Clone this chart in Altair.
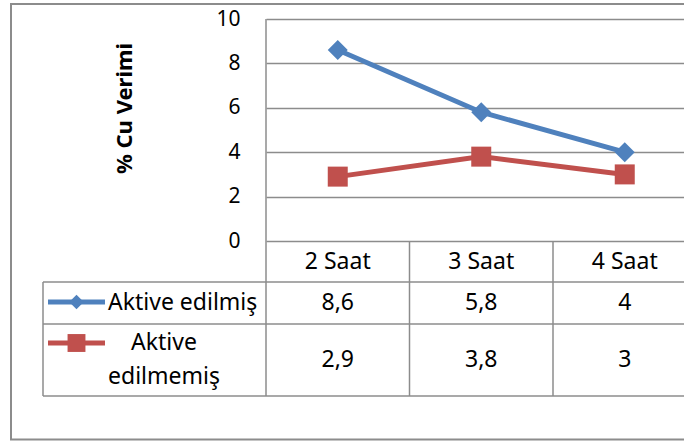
import altair as alt
import pandas as pd

# --- chart data -------------------------------------------------------------
categories = ["2 Saat", "3 Saat", "4 Saat"]
series_names = ["Aktive edilmiş", "Aktive edilmemiş"]
activated = [8.6, 5.8, 4.0]
not_activated = [2.9, 3.8, 3.0]
y_ticks = [0, 2, 4, 6, 8, 10]
y_title = "% Cu Verimi"

# --- styling ----------------------------------------------------------------
colors = ["#4F81BD", "#C0504D"]
shapes = ["diamond", "square"]
legend_sizes = [210, 320]
FONT = "Noto Sans"
GRID = "#8c8c8c"
TXT = 23

PLOT_W, PLOT_H = 418, 222   # line-chart plot area
STEP = 143.5                # width of one category column

# long table for the series
rows = []
for name, vals in zip(series_names, [activated, not_activated]):
    for i, (cat, v) in enumerate(zip(categories, vals)):
        rows.append({
            "series": name,
            "saat": cat,
            "idx": i,
            "value": v,
            "label": f"{v:g}".replace(".", ","),
        })
df = pd.DataFrame(rows)

cat_df = pd.DataFrame({"saat": categories, "idx": list(range(len(categories)))})
cat_df["edge"] = cat_df["idx"] + 0.5

x_scale = alt.Scale(domain=[-0.5, -0.5 + PLOT_W / STEP], nice=False, zero=False)
y_scale = alt.Scale(domain=[0, 10], nice=False, zero=True)
color_scale = alt.Scale(domain=series_names, range=colors)
shape_scale = alt.Scale(domain=series_names, range=shapes)

X = alt.X("idx:Q", scale=x_scale, axis=None)
Y = alt.Y(
    "value:Q",
    scale=y_scale,
    axis=alt.Axis(
        values=y_ticks,
        grid=True,
        gridColor=GRID,
        gridWidth=1.5,
        domain=False,
        ticks=False,
        labelFont=FONT,
        labelFontSize=21,
        labelColor="black",
        labelPadding=26,
        labelFlush=False,
        labelOverlap=False,
        title=y_title,
        titleFont=FONT,
        titleFontSize=22,
        titleFontWeight="bold",
        titleColor="black",
        titleAngle=270,
        titleX=-142,
        titleY=89,
        titleAlign="center",
        titleBaseline="middle",
    ),
)
COLOR = alt.Color("series:N", scale=color_scale, legend=None)

one = pd.DataFrame({"k": [0]})


def rule(x, x2, y, y2, width=1.5):
    return alt.Chart(one).mark_rule(color=GRID, strokeWidth=width).encode(
        x=alt.value(x), x2=alt.value(x2), y=alt.value(y), y2=alt.value(y2)
    )


# outer chart frame
frame = alt.Chart(one).mark_rect(fillOpacity=0, stroke=GRID, strokeWidth=2).encode(
    x=alt.value(-255), x2=alt.value(440), y=alt.value(-15), y2=alt.value(420.5)
)

# series lines and markers
lines = alt.Chart(df).mark_line(strokeWidth=5).encode(
    x=X, y=Y, color=COLOR, detail="series:N"
)
points = alt.Chart(df).mark_point(filled=True, opacity=1, size=400).encode(
    x=X,
    y=Y,
    color=COLOR,
    shape=alt.Shape("series:N", scale=shape_scale, legend=None),
)

# data table grid
table_lines = [
    rule(0, 0, 0, 377),          # left edge of plot / table
    rule(-223, -223, 263, 377),  # left edge of series-name column
    rule(-223, 440, 263, 263),
    rule(-223, 440, 305, 305),
    rule(-223, 440, 377, 377),
]
col_edges = alt.Chart(cat_df).mark_rule(color=GRID, strokeWidth=1.5).encode(
    x=alt.X("edge:Q", scale=x_scale, axis=None),
    y=alt.value(222),
    y2=alt.value(377),
)

header = alt.Chart(cat_df).mark_text(
    font=FONT, fontSize=TXT, color="black", baseline="middle"
).encode(x=X, y=alt.value(242.5), text="saat:N")

row_centers = [284, 341]
key_centers = [283, 324]
layers_table = []
for k, name in enumerate(series_names):
    sub = df[df["series"] == name]
    layers_table.append(
        alt.Chart(sub).mark_text(
            font=FONT, fontSize=TXT, color="black", baseline="middle"
        ).encode(x=X, y=alt.value(row_centers[k]), text="label:N")
    )
    # legend key: short line with the series marker
    key = pd.DataFrame({"series": [name]})
    layers_table.append(
        alt.Chart(key).mark_rule(strokeWidth=5).encode(
            x=alt.value(-218), x2=alt.value(-161),
            y=alt.value(key_centers[k]), y2=alt.value(key_centers[k]),
            color=COLOR,
        )
    )
    layers_table.append(
        alt.Chart(key).mark_point(filled=True, opacity=1, size=legend_sizes[k]).encode(
            x=alt.value(-189.5),
            y=alt.value(key_centers[k]),
            color=COLOR,
            shape=alt.Shape("series:N", scale=shape_scale, legend=None),
        )
    )

# series names in the first table column
name1 = alt.Chart(pd.DataFrame({"t": [series_names[0]]})).mark_text(
    font=FONT, fontSize=TXT, color="black", align="left", baseline="middle"
).encode(x=alt.value(-158), y=alt.value(283.5), text="t:N")
# the long name wraps onto two lines; y is the first line's centre
name2 = alt.Chart(pd.DataFrame({"t": [series_names[1].replace(" ", "\n")]})).mark_text(
    font=FONT, fontSize=TXT, color="black", align="center", baseline="middle",
    lineBreak="\n", lineHeight=34,
).encode(x=alt.value(-102), y=alt.value(324), text="t:N")

chart = alt.layer(
    frame,
    lines,
    points,
    *table_lines,
    col_edges,
    header,
    *layers_table,
    name1,
    name2,
).properties(
    width=PLOT_W,
    height=PLOT_H,
    autosize=alt.AutoSizeParams(type="none"),
    padding={"left": 266, "top": 19, "right": 0, "bottom": 200},
    background="white",
).configure_view(stroke=None)

chart.save("out.html", embed_options={"renderer": "svg", "actions": False})
